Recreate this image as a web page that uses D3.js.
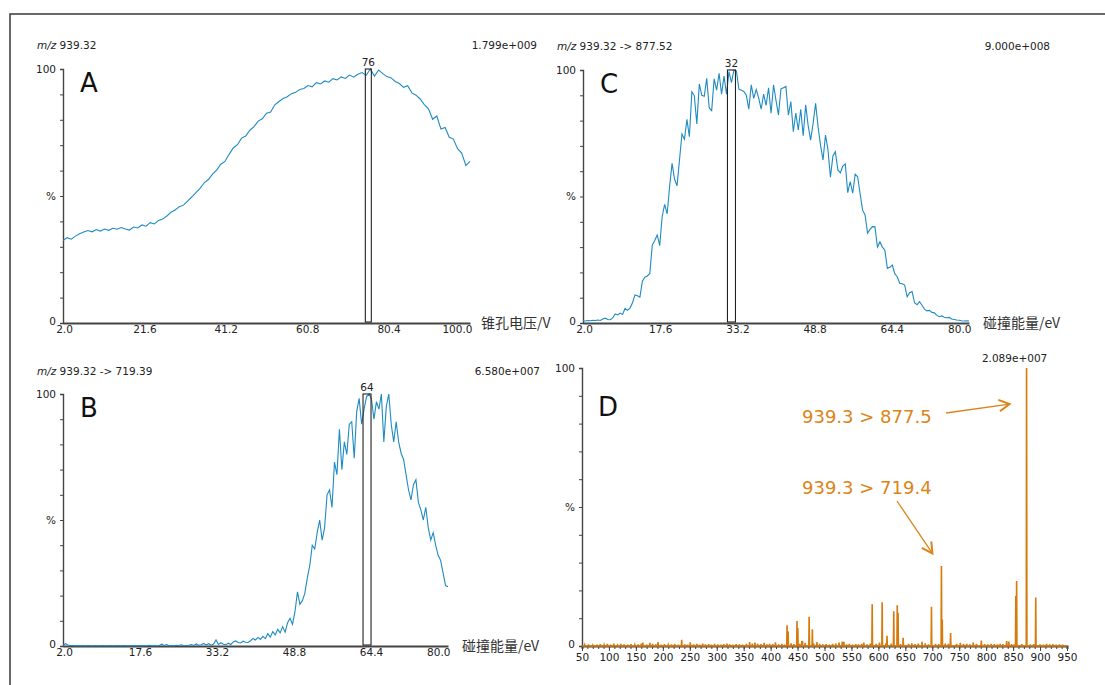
<!DOCTYPE html>
<html>
<head>
<meta charset="utf-8">
<script src="https://cdn.jsdelivr.net/npm/d3@7"></script>
<style>
  body { margin: 0; background: #fff; }
  svg { display: block; font-family: "DejaVu Sans", Verdana, sans-serif; }
  .axis path, .axis line { stroke: #444; }
  .axis text { fill: #222; font-family: "DejaVu Sans", Verdana, sans-serif; }
</style>
</head>
<body>
<svg id="chart" width="1105" height="685"></svg>
<script>
// ---- data ----
// A: cone voltage scan, m/z 939.32, sampled every 1 V from 2 V
var aStart = 2, aStep = 1;
var aValues = [
  32.5,33.6,33.0,34.2,35.1,35.8,36.4,35.9,36.8,36.2,
  37.0,36.5,37.3,36.9,37.6,37.0,36.6,37.8,37.4,38.6,
  38.1,39.5,39.0,40.4,40.9,42.1,43.6,44.5,45.8,46.4,
  48.0,49.6,51.3,53.0,55.2,56.5,58.6,60.2,62.5,63.6,
  66.4,68.9,70.2,72.8,73.6,75.9,77.3,79.5,80.4,82.6,
  83.1,85.9,87.2,88.4,89.1,90.3,90.8,91.9,92.3,93.5,
  93.0,94.6,94.1,95.3,94.8,96.2,95.7,96.9,96.3,97.6,
  96.8,97.9,98.6,97.5,100,97.2,99.6,98.2,97.0,96.5,
  95.1,94.3,92.8,93.4,90.6,89.7,88.2,86.0,84.3,80.2,
  81.5,76.4,77.0,73.1,72.4,68.6,66.9,62.0,63.6
];
var aTicks = ["2.0", "21.6", "41.2", "60.8", "80.4", "100.0"];
var aPeak = 76;

// C: collision energy scan, 939.32 -> 877.52, every 0.5 eV from 2 eV
var ceStart = 2, ceStep = 0.5;
var cValues = [
  0.9,0.8,1.0,0.9,1.1,1.0,1.2,1.0,1.6,1.9,
  1.4,1.3,2.0,3.6,3.2,3.9,3.4,5.8,5.0,5.9,
  8.0,11.1,10.8,10.2,16.5,18.1,18.6,19.6,30.8,32.6,
  34.8,30.6,42.1,46.9,43.1,53.9,63.1,56.8,54.2,64.4,
  74.7,72.6,80.5,73.6,91.4,89.8,78.7,94.5,90.0,89.6,
  96.7,85.0,83.9,96.5,92.0,98.7,90.4,97.6,90.4,99.4,
  95.0,100,99.6,92.4,92.0,91.5,90.0,84.5,94.1,88.8,
  92.3,89.0,84.5,90.5,86.0,93.0,82.9,94.1,88.0,82.2,
  92.5,93.0,93.5,82.2,87.5,75.6,83.0,76.3,84.5,74.0,
  86.2,78.0,72.3,78.9,86.8,77.6,70.2,64.4,74.3,68.5,
  57.6,66.0,67.7,60.5,59.3,62.0,62.9,51.5,55.9,51.3,
  58.8,57.8,51.0,44.6,42.7,35.5,37.0,38.1,38.0,30.0,
  32.1,30.0,28.8,21.6,22.0,22.9,19.5,18.3,15.7,15.5,
  15.0,10.4,12.0,12.4,8.0,7.2,8.4,7.0,5.5,4.8,
  5.0,4.2,4.0,3.0,2.5,2.8,2.3,2.1,2.2,1.6,
  1.4,1.2,1.1,0.9,0.8,0.9,0.8
];
var cPeak = 32;

// B: collision energy scan, 939.32 -> 719.39, same sampling as C
var bValues = [
  0.3,0.9,0.4,0.2,0.2,0.1,0.2,0.1,0.2,0.1,
  0.2,0.1,0.1,0.2,0.1,0.1,0.2,0.1,0.1,0.2,
  0.1,0.1,0.2,0.1,0.1,0.2,0.1,0.1,0.2,0.1,
  0.1,0.2,0.1,0.2,0.1,0.3,0.1,0.2,0.1,0.2,
  0.7,0.2,0.6,0.1,0.2,0.1,0.3,0.2,0.5,0.1,
  0.2,0.3,0.6,0.2,0.8,0.3,0.5,1.0,0.4,0.9,
  0.3,0.8,2.4,0.6,1.3,0.7,0.5,1.1,0.6,1.6,
  2.0,1.4,1.2,1.9,1.5,1.4,2.1,3.0,2.4,3.4,
  2.6,3.8,2.9,4.9,3.5,5.7,4.4,6.6,5.2,7.7,
  5.5,9.2,11.0,8.6,13.6,21.5,16.5,18.0,21.0,27.0,
  32.0,40.0,38.5,45.0,50.0,42.0,47.0,60.0,62.0,55.0,
  73.0,68.0,86.0,70.0,81.0,76.0,88.0,89.0,74.5,93.0,
  98.3,88.0,94.0,99.0,100,98.0,90.0,97.0,94.0,100,
  81.0,95.0,100,88.0,81.0,89.0,81.0,76.5,74.0,68.0,
  62.0,58.0,64.0,66.0,57.0,54.0,50.0,55.0,47.0,42.0,
  45.0,40.0,36.0,34.0,29.0,24.0,23.5
];
var bPeak = 64;
var ceTicks = ["2.0", "17.6", "33.2", "48.8", "64.4", "80.0"];

// D: product ion spectrum of 939.3
var dPeakMz  = [430.5, 432.5, 449, 450.5, 458, 471.5, 477.5, 588.5, 607, 616, 628.5, 635, 636.5, 698.5, 717, 718.5, 734, 855, 856.5, 875, 892];
var dPeakInt = [7.5, 5.2, 9.0, 6.5, 1.8, 10.5, 6.0, 15.0, 15.7, 3.7, 12.5, 14.7, 12.0, 14.1, 28.8, 9.5, 4.7, 18.0, 23.4, 100, 17.4];
var dNoiseMz = [55,62,70,78,84,91,97,103,109,116,122,128,135,141,148,154,160,163,170,176,181,187,191,197,203,210,216,222,229,235,241,246,251,257,263,268,274,279,285,290,296,302,308,313,319,324,330,336,342,348,355,361,366,371,376,382,388,393,398,404,409,415,421,426,438,443,454,459,464,480,486,491,497,503,509,515,521,527,533,536,541,546,552,558,563,569,573,579,585,596,602,614,624,641,646,656,662,668,674,681,687,693,706,712,724,730,745,752,758,764,770,776,782,791,797,803,809,815,821,826,831,838,842,847,852,866,882,888,900,906,912,918,924,930,936,942];
var dNoiseInt = [0.4,0.6,0.3,0.5,0.7,0.4,0.8,0.5,0.9,0.3,0.8,0.6,0.5,0.7,0.4,0.6,0.9,1.2,0.5,1.1,0.8,0.6,1.4,0.5,0.7,0.4,0.6,0.8,0.5,2.2,0.6,0.5,1.3,0.6,0.8,0.5,0.9,0.6,0.7,0.5,0.8,0.6,0.5,0.7,0.9,0.6,0.5,0.7,0.6,0.5,0.8,1.4,0.9,1.2,0.8,0.7,1.1,0.6,0.8,0.7,1.3,0.6,0.8,0.5,1.0,0.7,0.8,1.9,1.1,0.9,1.4,0.8,0.6,0.7,0.5,0.8,0.9,1.2,1.6,1.5,0.6,0.8,0.5,0.7,0.6,0.8,1.2,0.6,0.9,0.8,1.2,1.0,0.9,0.7,3.0,0.8,1.0,0.7,0.9,1.5,1.0,0.6,0.8,0.7,0.9,0.8,0.8,1.1,0.7,0.8,0.6,1.2,0.8,2.0,0.7,0.6,0.8,0.7,0.6,0.8,0.7,1.8,1.6,0.7,0.6,0.7,0.6,0.7,0.6,0.5,0.8,0.6,0.7,0.5,0.6,0.5];
var dTicks = [50,100,150,200,250,300,350,400,450,500,550,600,650,700,750,800,850,900,950];
var dLabels = ["939.3 > 877.5", "939.3 > 719.4"];

var blue = "#1f8bc2";
var orange = "#d67a0c";
var orangeText = "#dc8418";

var svg = d3.select("#chart");

// outer frame
svg.append("rect")
  .attr("x", 10).attr("y", 14)
  .attr("width", 1130).attr("height", 700)
  .attr("fill", "none").attr("stroke", "#444").attr("stroke-width", 1.6);

function header(x, y, rest) {
  var t = svg.append("text").attr("x", x).attr("y", y)
    .attr("font-size", 10.5).attr("fill", "#222");
  t.append("tspan").attr("font-style", "italic").text("m/z");
  t.append("tspan").text(" " + rest);
}

function yAxis(g, y, x0) {
  var ax = d3.axisLeft(y)
    .tickValues([0,10,20,30,40,50,60,70,80,90,100])
    .tickSize(3).tickPadding(4)
    .tickFormat(function(d) { return d === 100 ? "100" : d === 50 ? "%" : d === 0 ? "0" : ""; });
  var a = g.append("g").attr("class", "axis")
    .attr("transform", "translate(" + x0 + ",0)").call(ax);
  a.select(".domain").attr("stroke-width", 1.4);
  a.selectAll("text").attr("font-size", 10.5)
    .attr("dy", function(d) { return d === 0 ? "0.1em" : "0.32em"; });
}

// trace panels (A, B, C)
function tracePanel(p) {
  var x = d3.scaleLinear().domain([p.start, p.end]).range([p.x0, p.x1]);
  var y = d3.scaleLinear().domain([0, 100]).range([p.y0, p.y1]);
  var g = svg.append("g");

  yAxis(g, y, p.x0);

  var xa = d3.axisBottom(x)
    .tickValues(p.ticks.map(Number))
    .tickSize(0).tickPadding(3)
    .tickFormat(function(d, i) { return p.ticks[i]; });
  var a = g.append("g").attr("class", "axis")
    .attr("transform", "translate(0," + p.y0 + ")").call(xa);
  a.select(".domain").attr("stroke-width", 2);
  a.selectAll("text").attr("font-size", 10.5)
    .attr("text-anchor", function(d, i) { return i === p.ticks.length - 1 ? "end" : "middle"; })
    .attr("dx", function(d, i) { return i === p.ticks.length - 1 ? 2 : (i === 0 ? 1 : 0); });

  var line = d3.line()
    .x(function(d, i) { return x(p.start + i * p.step); })
    .y(function(d) { return y(d); });
  g.append("path").datum(p.values)
    .attr("d", line).attr("fill", "none")
    .attr("stroke", blue).attr("stroke-width", 1.1);

  // peak marker box
  var px = x(p.peak) + p.boxShift;
  g.append("rect")
    .attr("x", px - p.boxHalf).attr("y", y(100))
    .attr("width", p.boxHalf * 2).attr("height", y(0) - y(100) - 1)
    .attr("fill", "none").attr("stroke", "#222").attr("stroke-width", 1.1);
  g.append("text").attr("x", px).attr("y", y(100) - 3)
    .attr("text-anchor", "middle").attr("font-size", 10.5).attr("fill", "#222")
    .text(p.peak);

  g.append("text").attr("x", p.x0 + 17).attr("y", p.y1 + 23)
    .attr("font-size", 26).attr("fill", "#111").text(p.letter);

  g.append("text").attr("x", p.x1 + p.titleGap).attr("y", p.y0 + 5)
    .attr("font-family", "'Noto Sans CJK SC', sans-serif")
    .attr("font-size", 14).attr("fill", "#333").text(p.title);

  header(p.hx, p.hy, p.head);
  svg.append("text").attr("x", p.sx).attr("y", p.hy)
    .attr("text-anchor", "end").attr("font-size", 10.5).attr("fill", "#222")
    .text(p.scale);
}

tracePanel({ letter: "A", values: aValues, start: aStart, step: aStep, end: 100, ticks: aTicks, peak: aPeak,
  x0: 63, x1: 470, y0: 323, y1: 69, boxHalf: 3, boxShift: -2, title: "锥孔电压/V", titleGap: 11,
  hx: 37, hy: 49, head: "939.32", sx: 537, scale: "1.799e+009" });

tracePanel({ letter: "C", values: cValues, start: ceStart, step: ceStep, end: 80, ticks: ceTicks, peak: cPeak,
  x0: 583, x1: 969, y0: 323, y1: 70, boxHalf: 4, boxShift: 0, title: "碰撞能量/eV", titleGap: 14,
  hx: 557, hy: 50, head: "939.32 -> 877.52", sx: 1050, scale: "9.000e+008" });

tracePanel({ letter: "B", values: bValues, start: ceStart, step: ceStep, end: 80, ticks: ceTicks, peak: bPeak,
  x0: 63, x1: 448, y0: 646, y1: 394, boxHalf: 4, boxShift: -2, title: "碰撞能量/eV", titleGap: 14,
  hx: 37, hy: 375, head: "939.32 -> 719.39", sx: 540, scale: "6.580e+007" });

// spectrum panel D
(function() {
  var x0 = 582, x1 = 1067, y0 = 646, y1 = 368;
  var x = d3.scaleLinear().domain([50, 950]).range([x0, x1]);
  var y = d3.scaleLinear().domain([0, 100]).range([y0, y1]);
  var g = svg.append("g");

  yAxis(g, y, x0);

  var minor = [];
  for (var v = 50; v <= 950; v += 10) minor.push(v);
  var am = g.append("g").attr("class", "axis")
    .attr("transform", "translate(0," + y0 + ")")
    .call(d3.axisBottom(x).tickValues(minor).tickSize(3).tickFormat(""));
  am.select(".domain").attr("stroke-width", 2);
  var aj = g.append("g").attr("class", "axis")
    .attr("transform", "translate(0," + y0 + ")")
    .call(d3.axisBottom(x).tickValues(dTicks).tickSize(5).tickPadding(3).tickFormat(d3.format("d")));
  aj.select(".domain").remove();
  aj.selectAll("text").attr("font-size", 10.5);

  // stick spectrum as one continuous trace
  var peaks = dPeakMz.map(function(m, i) { return [m, dPeakInt[i]]; })
    .concat(dNoiseMz.map(function(m, i) { return [m, dNoiseInt[i]]; }))
    .sort(function(a, b) { return a[0] - b[0]; });
  var pts = [[50, 0]];
  peaks.forEach(function(p) {
    pts.push([p[0] - 0.6, 0], [p[0], p[1]], [p[0] + 0.6, 0]);
  });
  pts.push([950, 0]);
  g.append("path").datum(pts)
    .attr("d", d3.line().x(function(d) { return x(d[0]); }).y(function(d) { return y(d[1]); }))
    .attr("fill", "none").attr("stroke", orange).attr("stroke-width", 1.6);

  g.append("text").attr("x", x0 + 16).attr("y", 416)
    .attr("font-size", 26).attr("fill", "#111").text("D");

  var top = dPeakInt.indexOf(100);
  g.append("text").attr("x", x(dPeakMz[top]) - 12).attr("y", 362)
    .attr("text-anchor", "middle").attr("font-size", 10.5).attr("fill", "#222")
    .text("2.089e+007");

  // annotations
  function arrow(xa, ya, xb, yb) {
    g.append("line").attr("x1", xa).attr("y1", ya).attr("x2", xb).attr("y2", yb)
      .attr("stroke", orangeText).attr("stroke-width", 1.3);
    var ang = Math.atan2(yb - ya, xb - xa), L = 12, w = 0.5;
    var path = "M" + (xb - L * Math.cos(ang - w)) + "," + (yb - L * Math.sin(ang - w)) +
      "L" + xb + "," + yb +
      "L" + (xb - L * Math.cos(ang + w)) + "," + (yb - L * Math.sin(ang + w));
    g.append("path").attr("d", path).attr("fill", "none")
      .attr("stroke", orangeText).attr("stroke-width", 2);
  }
  g.append("text").attr("x", 802).attr("y", 423)
    .attr("font-size", 18).attr("fill", orangeText).text(dLabels[0]);
  arrow(946, 413, x(875) - 17, y(87));
  g.append("text").attr("x", 802).attr("y", 494)
    .attr("font-size", 18).attr("fill", orangeText).text(dLabels[1]);
  arrow(897, 501, x(717) - 9, y(33.3));
})();
</script>
</body>
</html>
